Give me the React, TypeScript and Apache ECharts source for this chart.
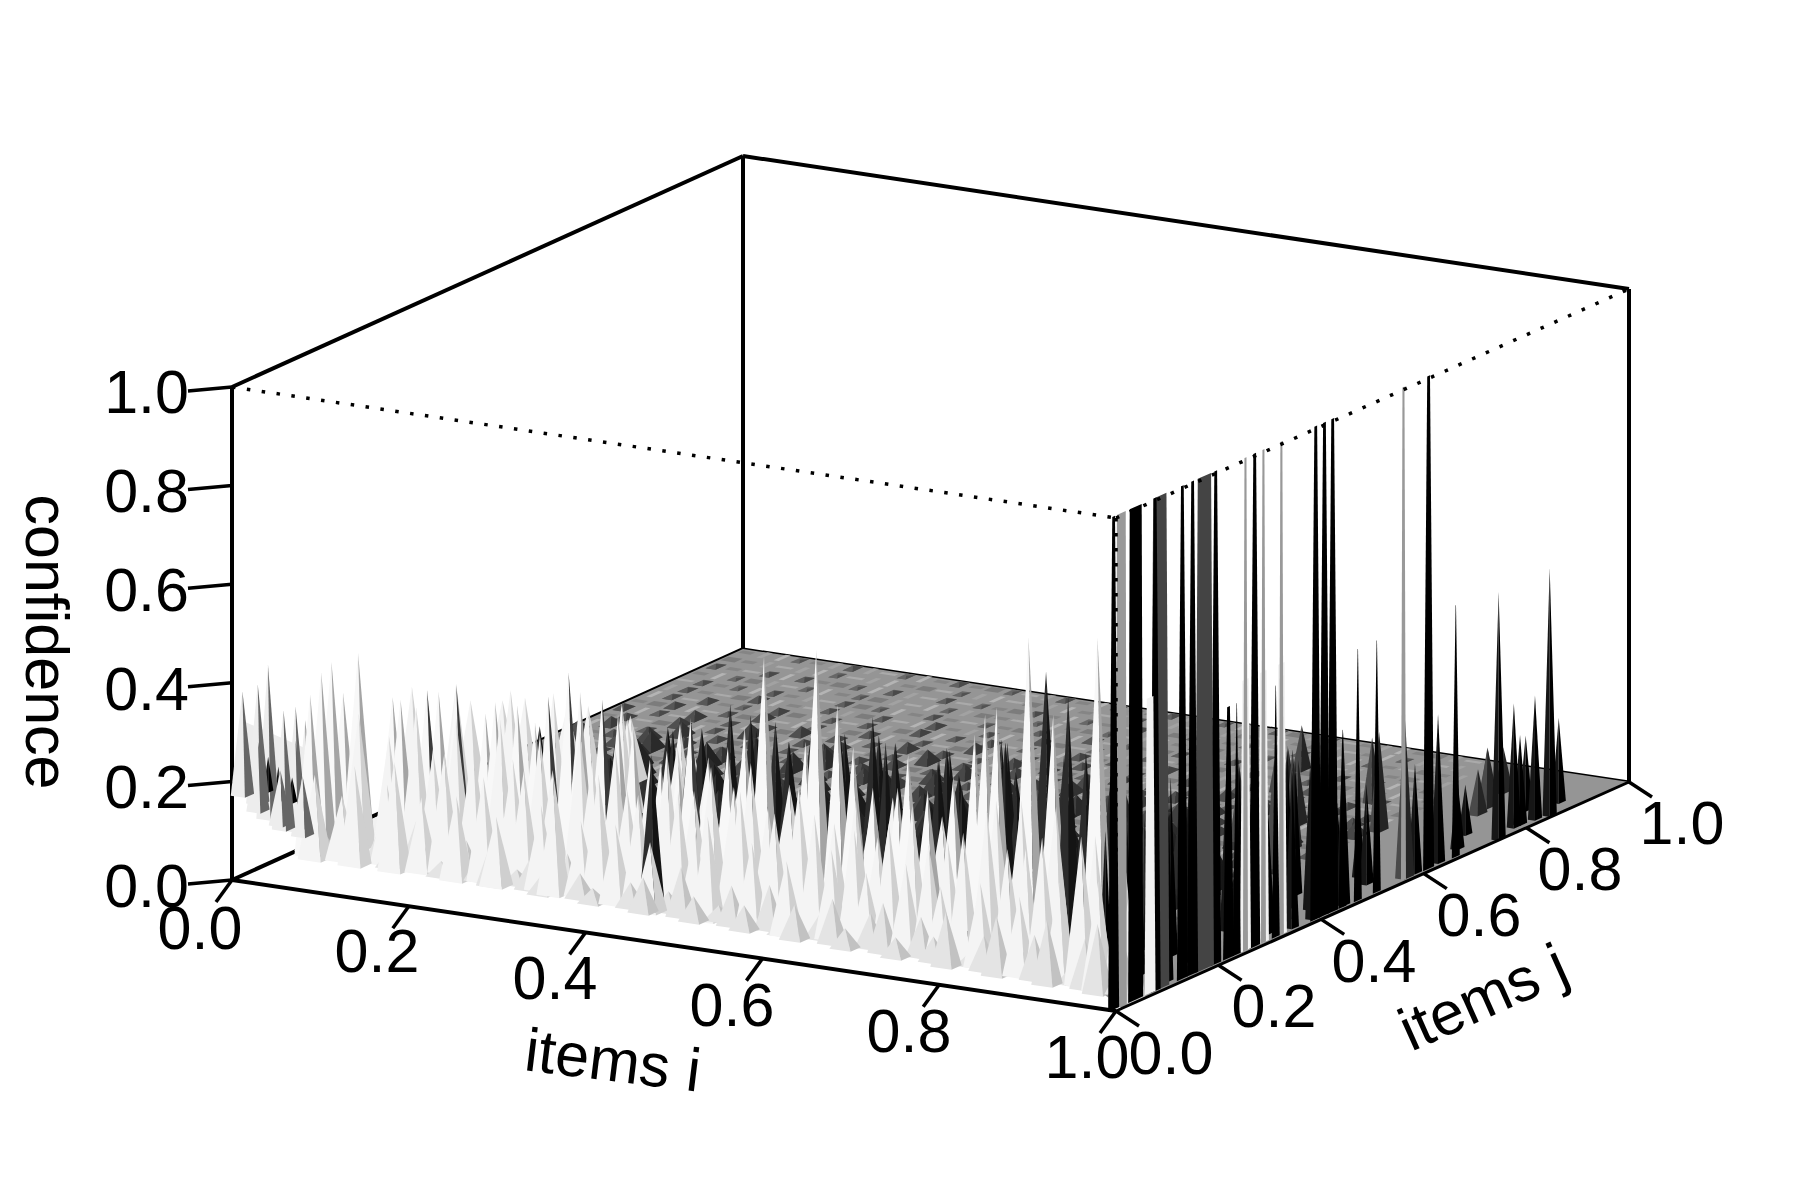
import React, { useEffect, useRef } from "react";
import * as echarts from "echarts";

// ---------- axis values ----------
const tickValues = [0, 0.2, 0.4, 0.6, 0.8, 1];
const tickLabels = ["0.0", "0.2", "0.4", "0.6", "0.8", "1.0"];

// ---------- surface peaks, each [item i, item j, confidence] ----------
const fringePeaks = [
  [.01,.135,.06],[.03,.13,.04],[.05,.14,.08],[.07,.125,.03],[.09,.135,.07],[.11,.12,.04],[.13,.135,.09],[.15,.125,.05],[.17,.115,.03],[.19,.13,.07],
  [.21,.12,.05],[.23,.11,.09],[.25,.125,.03],[.27,.115,.06],[.29,.105,.04],[.31,.12,.08],[.33,.11,.05],[.35,.1,.03],[.37,.115,.09],[.39,.105,.05],
  [.41,.095,.07],[.43,.11,.04],[.45,.1,.1],[.47,.09,.05],[.49,.105,.03],[.51,.095,.08],[.53,.085,.05],[.55,.1,.09],[.57,.09,.03],[.59,.08,.07],
  [.61,.095,.05],[.63,.085,.09],[.65,.075,.04],[.67,.09,.07],[.69,.08,.1],[.71,.07,.04],[.73,.085,.08],[.75,.075,.05],[.77,.065,.11],[.79,.08,.03],
  [.81,.07,.07],[.83,.06,.12],[.85,.075,.05],[.87,.065,.09],[.89,.055,.13],[.91,.07,.04],[.93,.06,.1],[.95,.05,.14],[.97,.06,.06],[.985,.04,.12],
];
const middlePeaks = [
  [.03,.11,.17],[.055,.12,.13],[.075,.11,.2],[.1,.13,.16],[.12,.11,.22],[.145,.12,.15],[.165,.13,.24],[.19,.11,.17],[.215,.12,.21],[.235,.11,.14],
  [.255,.13,.23],[.28,.12,.17],[.3,.11,.2],[.325,.12,.15],[.345,.12,.25],[.37,.11,.16],[.39,.12,.22],[.415,.1,.14],[.435,.12,.24],[.46,.11,.17],
  [.48,.1,.21],[.505,.12,.26],[.53,.1,.17],[.55,.11,.23],[.575,.09,.15],[.595,.11,.24],[.62,.1,.18],[.64,.11,.22],[.665,.09,.15],[.685,.1,.25],
  [.71,.09,.18],[.73,.1,.22],[.755,.08,.15],[.775,.09,.26],[.8,.08,.17],[.825,.09,.24],[.85,.07,.16],[.87,.08,.28],[.895,.07,.2],[.92,.07,.3],
  [.945,.06,.22],[.965,.07,.34],[.985,.05,.2],
  [.03,.3,.26],[.05,.38,.2],[.04,.46,.16],[.08,.3,.28],[.1,.4,.21],[.09,.5,.14],[.13,.32,.27],[.16,.42,.2],[.15,.52,.13],[.19,.3,.29],
  [.21,.41,.19],[.25,.33,.27],[.27,.43,.16],[.31,.34,.24],[.33,.3,.22],[.37,.29,.2],[.42,.27,.22],[.48,.26,.2],[.52,.24,.25],[.58,.25,.2],
  [.62,.22,.23],[.67,.23,.2],[.7,.2,.24],[.76,.18,.28],[.8,.16,.3],[.85,.14,.3],
  [.02,.16,.2],[.045,.17,.27],[.085,.16,.24],[.11,.17,.3],[.135,.16,.22],[.155,.17,.29],[.18,.16,.25],[.205,.17,.3],[.225,.16,.23],[.25,.17,.28],
  [.27,.16,.22],[.295,.17,.3],[.315,.16,.25],[.335,.17,.28],[.36,.15,.21],[.38,.16,.27],[.405,.15,.3],[.43,.16,.22],[.455,.15,.28],[.475,.16,.24],
  [.5,.15,.3],[.525,.14,.22],[.56,.14,.27],[.6,.14,.21],[.63,.13,.27],[.655,.13,.2],[.7,.12,.28],[.74,.12,.22],[.79,.11,.3],[.84,.1,.24],[.88,.09,.34],[.93,.08,.3],
];
const tallPeaks = [
  [.02,.14,.361],[.02,.16,.373],[.019,.12,.325],[.01,.2,.29],[.027,.2,.374],[.066,.2,.295],
  [.075,.2,.292],[.118,.2,.319],[.171,.2,.29],[.182,.2,.316],[.207,.2,.316],[.227,.2,.286],[.278,.2,.362],[.321,.2,.327],[.338,.2,.307],[.369,.2,.242],
  [.389,.2,.248],[.423,.2,.268],[.445,.2,.295],[.464,.2,.34],[.486,.2,.488],[.533,.2,.329],[.545,.2,.518],[.569,.2,.413],[.587,.2,.333],[.609,.2,.256],
  [.637,.2,.264],[.649,.2,.333],[.671,.2,.267],[.7,.2,.302],[.724,.2,.394],[.736,.2,.438],[.749,.2,.457],[.785,.2,.608],[.813,.2,.458],[.863,.2,.628],
];
const sharpPeaks = [
  [.105,.2,.32],[.138,.2,.339],[.242,.2,.343],[.265,.2,.398],[.303,.2,.353],[.403,.2,.343],
];
// peaks at the i = 0 side stand on a raised part of the surface: [i, j, confidence, confidence at foot]
const raisedPeaks = [
  [.006,.01,.38,.17],[.006,.04,.38,.14],[.006,.06,.41,.1],[.006,.114,.3,.05],[.006,.133,.264,.03],
  [.012,.03,.27,.13],[.012,.08,.31,.07],[.014,.1,.24,.06],[.016,.13,.2,.03],[.02,.06,.2,.09],[.022,.1,.17,.05],
];
const raisedDark = [
  [.012,.07,.2,.13],[.016,.09,.17,.12],[.012,.05,.23,.16],
];
// outline of the raised part at the i = 0 side, each [i, j, confidence]
const raisedOutline = [[.006,.012,.17],[.006,.08,.09],[.006,.145,.02],[.03,.16,.1],[.006,.14,.2],[.006,.01,.32]];
const darkPeaks = [
  [.414,.105,.315],[.325,.3,.25],[.345,.3,.28],[.39,.3,.32],[.413,.3,.304],[.441,.3,.298],[.456,.3,.262],[.551,.3,.337],[.577,.3,.292],[.626,.3,.27],
  [.701,.3,.325],[.689,.4,.42],[.831,.198,.5],[.792,.3,.329],[.613,.218,.34],[.633,.286,.278],[.678,.255,.25],[.753,.21,.38],[.725,.281,.25],[.412,.377,.213],
  [.385,.361,.223],[.13,.377,.17],[.184,.437,.16],
  [.25,.42,.18],[.3,.4,.2],[.35,.42,.2],[.4,.44,.19],[.45,.42,.22],[.5,.4,.24],[.48,.36,.25],[.53,.38,.24],[.58,.4,.23],[.6,.36,.26],
  [.65,.38,.28],[.68,.34,.3],[.72,.36,.27],[.75,.33,.3],[.78,.37,.25],[.8,.3,.31],[.82,.34,.25],[.84,.28,.3],[.87,.3,.3],[.89,.26,.32],
  [.55,.47,.14],[.62,.46,.17],[.7,.47,.18],[.76,.45,.2],[.82,.44,.2],[.86,.42,.24],
];
const blackPeaks = [
  [.985,.124,.5],[.99,.36,.32],[.97,.43,.29],[.99,.4,.4],[.985,.43,.45],[.99,.46,.35],[.96,.33,.2],[.97,.2,.3],[.96,.16,.22],[.98,.27,.25],
  [.97,.3,.22],[.95,.38,.24],[.96,.5,.18],[.97,.54,.2],[.95,.56,.14],[.99,.6,.22],[.997,.751,.5],[.995,.854,.5],[.987,.798,.25],[.987,.81,.18],
  [.965,.859,.15],[.99,.834,.25],[.978,.901,.17],[.99,.645,.3],[.98,.7,.14],[.96,.75,.1],
  [.93,.1,.3],[.95,.13,.34],[.92,.16,.27],[.94,.21,.36],[.91,.22,.26],[.95,.25,.4],[.92,.28,.3],[.94,.32,.36],[.9,.32,.24],[.93,.36,.33],
  [.95,.42,.33],[.91,.42,.24],[.93,.47,.27],[.97,.47,.27],[.94,.52,.22],[.92,.55,.17],[.98,.36,.3],[.97,.38,.34],[.98,.33,.27],[.96,.07,.4],
];
const conePeaks = [
  [.82,.81,.13],[.932,.823,.09],[.927,.85,.12],[.912,.907,.09],[.91,.88,.1],[.7,.88,.09],[.72,.8,.1],[.76,.75,.12],[.8,.7,.13],[.78,.62,.15],
  [.84,.62,.2],[.86,.55,.22],[.9,.5,.25],[.88,.72,.2],[.65,.62,.07],[.7,.55,.1],[.99,.58,.33],[.75,.45,.12],[.8,.4,.15],
];

// ---------- peaks standing on the i = 1 edge, each [item j, confidence] ----------
const edgeBlackWide = [[.047,1]];
const edgeGreyDark = [[.094,1],[.181,1]];
const edgeBlack = [[.004,1],[.085,1],[.138,1],[.158,1],[.203,1],[.228,.51],[.279,1],[.398,1],[.415,1],[.431,1],[.618,1]];
const edgeGrey = [[.019,1]];
const edgeGreyThin = [[.261,1],[.296,1],[.331,1],[.569,1]];
const edgeWhite = [[.075,.6],[.261,.55],[.296,.55],[.331,.55]];
const edgeThin = [[.244,.51],[.32,.51],[.45,.36],[.48,.51],[.517,.51],[.671,.51]];

// ---------- small relief of the floor, one string per row of j (far to near) ----------
const floorRows = [
  "eda1ed2dc1ae2eb1cd2ea1eb2dc1ae2bd1cedaebdcae",
  "bedcda1cdaebc1dacbdaecd1adcedbcaebdcea1dcdab",
  "2ec2a2eb1a2dc2c1eb2ea1ec2eb1ae1cd2eaa2ecbedb",
  "ea1bdc1ae1bdca1dbec1aeb1cdae1bdc1aebcdaebcde",
  "c2e1a2edc2b1ae2ec1eb2da3c1eb2dc2ae1bd2c1aebd",
  "d2ecb3aec2db2ca3ed2ae3bc1ad2ce1bd3ea2cbdeacb",
  "a2c3e1d3ba2c2db3a2e3c2da3b2ec3a1db2ce3adb2ce",
  "eb3ac2b4ca2db3ae2cb4ad2cb3ae2cb3da4cb2ae3cdb",
  "3a2c4e2a3b4c3a2e4b3c2a4e3b2d4a3c2e4b3a2c4e3a",
  "e3cb4a2c5ba3e4cb2a5c3eb4a2c5eb3a4cb2e5a3cb4e",
  "a4c2e5a3b4d2c5a3e4b2c5a3d4b5c2e4a3b5d2c4a3e5",
  "4e3b5c4a2e5b3c6a4e2b5c3a6e4b3c5a2e6b4c3a5e4b",
  "b5c4a6e3b5c4e6a3c5b4e6a3c5b4e6c3a5b6e4c3a6b4",
  "e5a3c6b4e7a5c3b6e4a7c5b3e6a4c7b5a3e6c4b7a5c3",
  "6c5e4b7a3c6e5b4a7c6e3b5a7c4e6b5a3c7e5b6a4c7e",
  "a6b7c5e7a4b6c7e5a7b4c6e7a5b7c4e6a7b5c7e4a6b7",
  "7c5e8a6b7c5e8a6c7b5e8a7c6b8e5a7c6b8e7a5c8b6e",
  "b8a6c7e8b5a7c8e6b7a8c5e7b8a6c7e8b6a7c8e5b7a8",
  "6e8b7c9a5e8b6c7a9e5b8c7a6e9b7c8a5e9b6c8a7e9b",
  "9a7c8b6e9a7c9b8e6a9c7b8e9a6c9b7e8a9c6b9e7a8c",
  "8b9e7a9c6b8e9a7c9b8e6a9c7b9e8a6c9b7e9a8c7b9e",
  "9c8a9e7b9c8a9e9b7c9a8e9b7c9a9e8b9c7a9e8b9c7a",
  "8e9b8c9a7e9b9c8a9e7b9c8a9e9b7c9a8e9b8c9a7e9b",
  "9a8c9e8b9a9c7e9b8a9c9e7b9a8c9e9b8a9c7e9b8a9c",
  "9b9e8c9a8b9e9c7a9b8e9c9a7b9e8c9a9b8e9c7a9b9e",
  "8c9a9e8b9c9a8e9b9c7a9e9b8c9a9e8b9c9a7e9b8c9a",
  "9e8b9a9c8e9b9a8c9e9b7a9c8e9b9a8c9e9b7a9c9e8b",
  "9a9c8e9b9a8c9e9b8a9c9e8b9a9c8e9b9a8c9e9b8a9c",
];

// ---------- layout of the box on the page ----------
const CORNER_A = [232, 880];
const CORNER_B = [1116, 1011];
const CORNER_C = [1629, 782];
const CORNER_D = [743, 649];
const Z_HEIGHT = 493;

type P3 = [number, number, number];
const project = (i: number, j: number, z: number) => {
  const a = (1 - i) * (1 - j), b = i * (1 - j), c = i * j, d = (1 - i) * j;
  return [
    CORNER_A[0] * a + CORNER_B[0] * b + CORNER_C[0] * c + CORNER_D[0] * d,
    CORNER_A[1] * a + CORNER_B[1] * b + CORNER_C[1] * c + CORNER_D[1] * d - z * Z_HEIGHT,
  ];
};

type Poly = { pts: P3[]; fill: string };
type Mark = { polys: Poly[]; order: number };

const pyramid = (i: number, j: number, z: number, di: number, dj: number, front: string, side: string, foot = 0): Mark => ({
  order: project(i, j, 0)[1],
  polys: [
    { pts: [[i - di, j - dj, foot], [i + di, j - dj, foot], [i, j, z]], fill: front },
    { pts: [[i + di, j - dj, foot], [i + di, j + dj, foot], [i, j, z]], fill: side },
  ],
});

const edgeBar = (j: number, z: number, wide: number, taper: number, fill: string): Mark => {
  const w = wide / 513 / 2;
  return {
    order: project(0.995, j, 0)[1] + 2,
    polys: [{ pts: [[0.995, j - w, 0], [0.995, j + w, 0], [0.995, j + w * taper, z], [0.995, j - w * taper, z]], fill }],
  };
};

const rect = (i: number, j: number, di: number, dj: number, fill: string): Mark => ({
  order: 0,
  polys: [{ pts: [[i - di, j - dj, 0], [i + di, j - dj, 0], [i + di, j + dj, 0], [i - di, j + dj, 0]], fill }],
});

const grey = (g: number) => `rgb(${g},${g},${g})`;

const floorMarks: Mark[] = [];
floorRows.forEach((row, r) => {
  const j = 0.99 - 0.03 * r;
  row.split("").forEach((ch, c) => {
    const i = 0.01 + 0.02 * c;
    if (i > 0.93 - Math.max(0, j - 0.55) * 0.2) return;
    if (j < 0.62 - i * 0.95) return;
    if (ch === "a") floorMarks.push(rect(i, j, .0028, .012, "#b4b4b4"));
    else if (ch === "c") floorMarks.push(rect(i, j, .009, .0035, "#aaaaaa"));
    else if (ch === "b") floorMarks.push(rect(i, j, .008, .008, "#7c7c7c"));
    else if (ch === "d") floorMarks.push(rect(i, j, .003, .011, "#a2a2a2"));
    else if (ch === "e") floorMarks.push(rect(i, j, .007, .005, "#858585"));
    else {
      const v = Number(ch);
      const di = .0045 + .0006 * v, dj = .009 + .001 * v;
      const g = Math.max(40, 112 - v * 8);
      const g2 = Math.max(24, g - 22);
      const top = v * v * .0009 + v * .0008;
      floorMarks.push({
        order: 0,
        polys: [
          { pts: [[i - di, j - dj, 0], [i + di, j - dj, 0], [i + di, j + dj, 0], [i - di, j + dj, 0]], fill: grey(g) },
          { pts: [[i - di, j - dj, 0], [i + di, j - dj, 0], [i, j, top]], fill: grey(g) },
          { pts: [[i + di, j - dj, 0], [i + di, j + dj, 0], [i, j, top]], fill: grey(g2) },
        ],
      });
    }
  });
});

const baseMarks: Mark[] = [
  { order: 0, polys: [{ pts: [[0, 1, 0], [1, 1, 0], [1, 0.012, 0], [0.9, 0.1, 0], [0, 0.3, 0]], fill: "#959595" }] },
];
const lightMarks: Mark[] = [
  {
    order: 0,
    polys: [{
      pts: [[0.006, 0.145, 0], [0.5, 0.1, 0], [0.985, 0.05, 0], [0.9, 0.12, 0], [0.74, 0.17, 0], [0.5, 0.23, 0], [0.3, 0.33, 0], [0.15, 0.42, 0], [0.06, 0.5, 0], [0, 0.56, 0]],
      fill: "#f1f1f1",
    }],
  },
  { order: 0, polys: [{ pts: raisedOutline as P3[], fill: "#ececec" }] },
];

const peakMarks: Mark[] = [
  ...fringePeaks.map(([i, j, z]) => pyramid(i, j, z, .012, .01, "#e4e4e4", "#c2c2c2")),
  ...middlePeaks.map(([i, j, z]) => pyramid(i, j, z, .013, .011, "#f4f4f4", "#cfcfcf")),
  ...tallPeaks.map(([i, j, z]) => pyramid(i, j, z, .012, .01, "#f8f8f8", "#a4a4a4")),
  ...sharpPeaks.map(([i, j, z]) => pyramid(i, j, z, .012, .01, "#f8f8f8", "#3a3a3a")),
  ...raisedPeaks.map(([i, j, z, f]) => pyramid(i, j, z, .008, .009, "#ededed", "#666666", f)),
  ...raisedDark.map(([i, j, z, f]) => pyramid(i, j, z, .003, .005, "#111111", "#000000", f)),
  ...darkPeaks.map(([i, j, z]) => pyramid(i, j, z, .008, .012, "#2c2c2c", "#141414")),
  ...blackPeaks.map(([i, j, z]) => pyramid(i, j, z, .004, .007, "#161616", "#000000")),
  ...conePeaks.map(([i, j, z]) => pyramid(i, j, z, .005, .01, "#4a4a4a", "#242424")),
  ...edgeWhite.map(([j, z]) => edgeBar(j, z, 11, .6, "#f2f2f2")),
  ...edgeGreyDark.map(([j, z]) => edgeBar(j, z, 19, .7, "#444444")),
  ...edgeBlackWide.map(([j, z]) => edgeBar(j, z, 15, .8, "#000000")),
  ...edgeGrey.map(([j, z]) => edgeBar(j, z, 11, .8, "#999999")),
  ...edgeGreyThin.map(([j, z]) => edgeBar(j, z, 5, .4, "#999999")),
  ...edgeBlack.map(([j, z]) => edgeBar(j, z, 11, .25, "#000000")),
  ...edgeThin.map(([j, z]) => edgeBar(j, z, 8, .05, "#000000")),
].sort((a, b) => a.order - b.order);

const marks: Mark[] = [...baseMarks, ...floorMarks, ...lightMarks, ...peakMarks];

// ---------- box and ticks ----------
type Seg = { from: P3; to: P3; off?: number[]; width: number; dash?: boolean };
const backSegs: Seg[] = [
  { from: [0, 0, 0], to: [0, 0, 1], width: 4 },
  { from: [0, 0, 1], to: [0, 1, 1], width: 4 },
  { from: [0, 1, 1], to: [1, 1, 1], width: 4 },
  { from: [1, 1, 1], to: [1, 1, 0], width: 4 },
  { from: [0, 1, 1], to: [0, 1, 0], width: 4 },
  { from: [0, 1, 0], to: [1, 1, 0], width: 3 },
  { from: [0, 0, 0], to: [0, 1, 0], width: 4 },
];
const frontSegs: Seg[] = [
  { from: [0, 0, 0], to: [1, 0, 0], width: 4 },
  { from: [1, 0, 0], to: [1, 1, 0], width: 3 },
  { from: [0, 0, 1], to: [1, 0, 1], width: 3.5, dash: true },
  { from: [1, 0, 1], to: [1, 1, 1], width: 3.5, dash: true },
  { from: [1, 0, 1], to: [1, 0, 0], width: 3.5, dash: true },
];
tickValues.forEach((t) => {
  frontSegs.push({ from: [t, 0, 0], to: [t, 0, 0], off: [-16, 22], width: 3.5 });
  frontSegs.push({ from: [1, t, 0], to: [1, t, 0], off: [23, 15], width: 3.5 });
  frontSegs.push({ from: [0, 0, t], to: [0, 0, t], off: [-44, 4], width: 3.5 });
});

const lineSeries = (segs: Seg[], z: number) => ({
  type: "custom",
  coordinateSystem: "cartesian2d",
  z,
  silent: true,
  clip: false,
  encode: { x: 0, y: 1 },
  data: segs.map((s) => project(s.from[0], s.from[1], s.from[2])),
  renderItem: (params: any, api: any) => {
    const s = segs[params.dataIndex];
    const p1 = project(s.from[0], s.from[1], s.from[2]);
    const p2 = project(s.to[0], s.to[1], s.to[2]);
    const a = api.coord(p1);
    const b = s.off ? api.coord([p2[0] + s.off[0], p2[1] + s.off[1]]) : api.coord(p2);
    return {
      type: "line",
      shape: { x1: a[0], y1: a[1], x2: b[0], y2: b[1] },
      style: { stroke: "#000", lineWidth: s.width, lineDash: s.dash ? [3.5, 11.5] : undefined, fill: null },
      silent: true,
    };
  },
});

const FONT = '61px "Liberation Sans", Arial, sans-serif';
const zLabelY = [886, 787, 689, 590, 491, 392];
const iLabelXY = [[200, 928], [377, 951], [555, 978], [732, 1005], [909, 1031], [1087, 1057]];
const jLabelXY = [[1171, 1053], [1274, 1006], [1374, 961], [1479, 915], [1580, 869], [1682, 823]];

const txt = (text: string, x: number, y: number, align = "center", rotation = 0) => ({
  type: "text",
  x,
  y,
  rotation,
  silent: true,
  z: 20,
  style: { text, font: FONT, fill: "#000", align, verticalAlign: "middle" },
});

export default function App() {
  const ref = useRef<HTMLDivElement>(null);
  useEffect(() => {
    document.body.style.margin = "0";
    const chart = echarts.init(ref.current!, null, { renderer: "svg" });
    chart.setOption({
      animation: false,
      backgroundColor: "#fff",
      grid: { left: 0, right: 0, top: 0, bottom: 0 },
      xAxis: { type: "value", min: 0, max: 1800, show: false },
      yAxis: { type: "value", min: 0, max: 1200, inverse: true, show: false },
      series: [
        lineSeries(backSegs, 1),
        {
          type: "custom",
          coordinateSystem: "cartesian2d",
          z: 2,
          silent: true,
          clip: false,
          encode: { x: 0, y: 1 },
          data: marks.map((m) => project(m.polys[0].pts[0][0], m.polys[0].pts[0][1], 0)),
          renderItem: (params: any, api: any) => {
            const m = marks[params.dataIndex];
            return {
              type: "group",
              silent: true,
              children: m.polys.map((p) => ({
                type: "polygon",
                silent: true,
                shape: { points: p.pts.map((q) => api.coord(project(q[0], q[1], q[2]))) },
                style: { fill: p.fill },
              })),
            };
          },
        },
        lineSeries(frontSegs, 3),
      ],
      graphic: [
        ...tickLabels.map((t, k) => txt(t, 189, zLabelY[k], "right")),
        ...tickLabels.map((t, k) => txt(t, iLabelXY[k][0], iLabelXY[k][1])),
        ...tickLabels.map((t, k) => txt(t, jLabelXY[k][0], jLabelXY[k][1])),
        txt("confidence", 47, 642, "center", -Math.PI / 2),
        txt("items i", 613, 1060, "center", (-7 * Math.PI) / 180),
        txt("items j", 1483, 997, "center", (24 * Math.PI) / 180),
      ],
    });
    return () => chart.dispose();
  }, []);
  return <div ref={ref} style={{ width: 1800, height: 1200 }} />;
}
